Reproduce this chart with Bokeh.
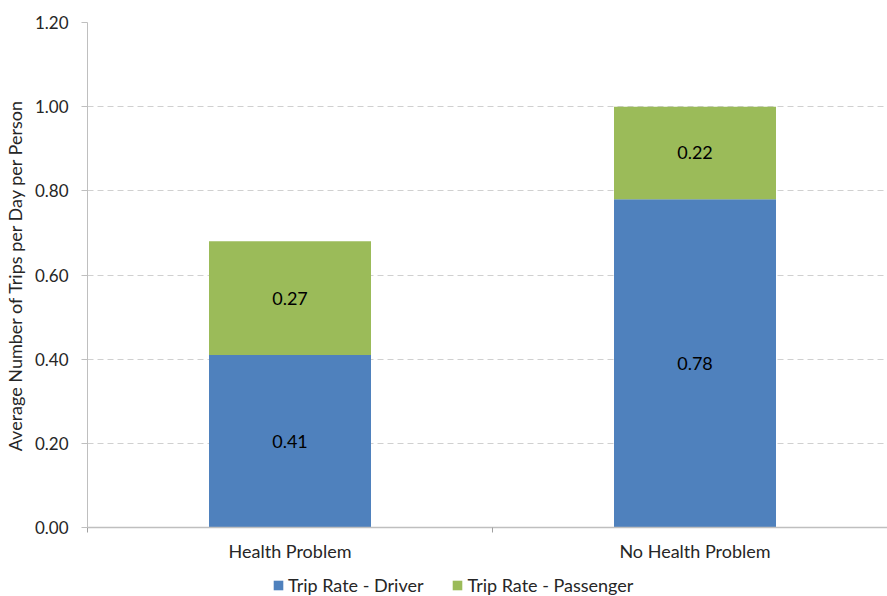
from bokeh.plotting import figure
from bokeh.layouts import column
from bokeh.models import Range1d, FixedTicker, NumeralTickFormatter, Legend, LegendItem, ColumnDataSource
from bokeh.core.properties import value
from bokeh.embed import file_html
from bokeh.resources import INLINE

categories = ["Health Problem", "No Health Problem"]
driver = [0.41, 0.78]
passenger = [0.27, 0.22]
series_names = ["Trip Rate - Driver", "Trip Rate - Passenger"]
y_ticks = [0.0, 0.2, 0.4, 0.6, 0.8, 1.0, 1.2]

BLUE = "#4F81BD"
GREEN = "#9BBB59"
FONT = "Lato"
TXT = "#262626"

xs = [i + 0.5 for i in range(len(categories))]
drv_top = driver
pas_top = [d + p for d, p in zip(driver, passenger)]

p = figure(frame_width=800, frame_height=505, output_backend="svg", toolbar_location=None,
           x_range=Range1d(0, 800 / 405), y_range=Range1d(0, 1.2),
           min_border_left=82, min_border_top=22, min_border_right=0, min_border_bottom=40)
p.outline_line_color = None
p.background_fill_color = "white"
p.border_fill_color = "white"

src = ColumnDataSource(dict(x=xs, d=driver, pt=pas_top, dt=drv_top,
                            dl=[f"{v:.2f}" for v in driver],
                            pl=[f"{v:.2f}" for v in passenger],
                            dm=[v / 2 for v in driver],
                            pm=[d + v / 2 for d, v in zip(driver, passenger)]))

p.vbar(x="x", width=0.40, bottom=0, top="dt", source=src, fill_color=BLUE, line_color=None)
p.vbar(x="x", width=0.40, bottom="dt", top="pt", source=src, fill_color=GREEN, line_color=None)

for col, ycol in (("dl", "dm"), ("pl", "pm")):
    p.text(x="x", y=ycol, text=col, source=src, text_align="center", text_baseline="middle",
           text_font=value(FONT), text_font_size="18px", text_color="#000000")

# grid
p.xgrid.visible = False
p.ygrid.ticker = FixedTicker(ticks=y_ticks)
p.ygrid.grid_line_color = "#D0D0D0"
p.ygrid.grid_line_dash = "6 4"
p.ygrid.grid_line_width = 1

# y axis
ya = p.yaxis[0]
ya.ticker = FixedTicker(ticks=y_ticks)
ya.formatter = NumeralTickFormatter(format="0.00")
ya.axis_line_color = "#BFBFBF"
ya.major_tick_line_color = "#BFBFBF"
ya.major_tick_in = 0
ya.major_tick_out = 6
ya.minor_tick_line_color = None
ya.major_label_standoff = 13
ya.major_label_text_font = FONT
ya.major_label_text_font_size = "17px"
ya.major_label_text_color = TXT
ya.axis_label = "Average Number of Trips per Day per Person"
ya.axis_label_text_font = FONT
ya.axis_label_text_font_size = "18px"
ya.axis_label_text_font_style = "normal"
ya.axis_label_text_color = TXT
ya.axis_label_standoff = 6

# x axis
xa = p.xaxis[0]
xa.ticker = FixedTicker(ticks=xs, minor_ticks=[0, 1, 2])
xa.major_label_overrides = {x: c for x, c in zip(xs, categories)}
xa.axis_line_color = "#BFBFBF"
xa.axis_line_width = 1.5
xa.major_tick_line_color = None
xa.major_tick_in = 0
xa.major_tick_out = 5
xa.minor_tick_line_color = "#A0A0A0"
xa.minor_tick_in = 0
xa.minor_tick_out = 5
xa.major_label_standoff = 7
xa.major_label_text_font = FONT
xa.major_label_text_font_size = "18px"
xa.major_label_text_color = TXT

# legend strip below the chart (separate small figure, same data, bars out of view)
pl = figure(width=879, height=29, output_backend="svg", toolbar_location=None,
            x_range=Range1d(0, 1), y_range=Range1d(10, 11),
            x_axis_location=None, y_axis_location=None,
            min_border_left=0, min_border_right=0, min_border_top=0, min_border_bottom=0)
pl.outline_line_color = None
pl.xgrid.visible = False
pl.ygrid.visible = False
lr1 = pl.vbar(x="x", width=0.40, bottom=0, top="dt", source=src, fill_color=BLUE, line_color=None)
lr2 = pl.vbar(x="x", width=0.40, bottom="dt", top="pt", source=src, fill_color=GREEN, line_color=None)

legend = Legend(items=[LegendItem(label=series_names[0], renderers=[lr1]),
                       LegendItem(label=series_names[1], renderers=[lr2])],
                orientation="horizontal", location=(185, 0),
                glyph_width=12, glyph_height=12, label_standoff=4, spacing=28,
                padding=0, margin=0, border_line_color=None, background_fill_alpha=0,
                label_text_font=FONT, label_text_font_size="18px", label_text_color=TXT,
                label_height=20)
pl.add_layout(legend, "center")

layout = column(p, pl, spacing=0)
open("out.html", "w").write(file_html(layout, INLINE))
